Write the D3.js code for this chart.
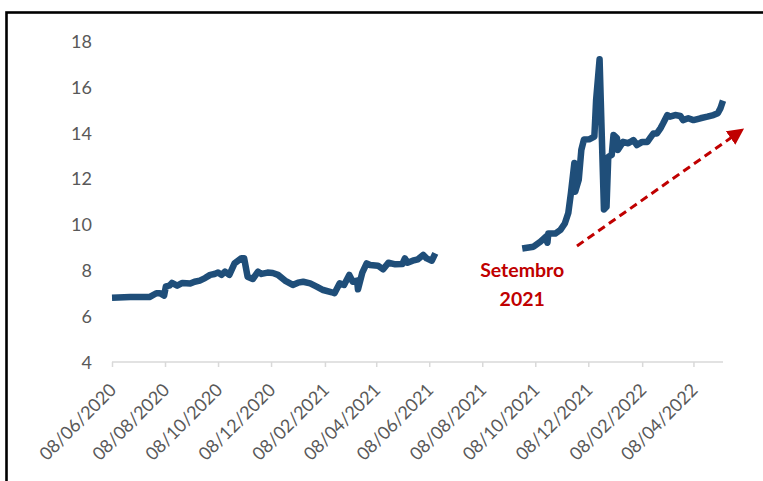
<!DOCTYPE html>
<html>
<head>
<meta charset="utf-8">
<script src="https://cdn.jsdelivr.net/npm/d3@7"></script>
<style>
  html, body { margin: 0; padding: 0; background: #fff; }
  svg { display: block; }
</style>
</head>
<body>
<svg id="chart" width="763" height="481"></svg>
<script>
// ---- data ----
const dates = [
  "2020-06-08","2020-06-29","2020-07-21","2020-07-29","2020-08-02","2020-08-07","2020-08-09","2020-08-13",
  "2020-08-16","2020-08-22","2020-08-28","2020-09-06","2020-09-11","2020-09-17","2020-09-23","2020-09-29",
  "2020-10-04","2020-10-08","2020-10-12","2020-10-16","2020-10-21","2020-10-27","2020-11-04","2020-11-07",
  "2020-11-11","2020-11-17","2020-11-23","2020-11-27","2020-12-04","2020-12-10","2020-12-16","2020-12-24",
  "2021-01-02","2021-01-08","2021-01-14","2021-01-22","2021-01-30","2021-02-06","2021-02-16","2021-02-19",
  "2021-02-25","2021-03-02","2021-03-08","2021-03-12","2021-03-17","2021-03-18","2021-03-23","2021-03-28",
  "2021-04-01","2021-04-10","2021-04-16","2021-04-22","2021-04-30","2021-05-08","2021-05-11","2021-05-14",
  "2021-05-20","2021-05-26","2021-06-01","2021-06-05","2021-06-11","2021-06-15",
  "2021-07-15",
  "2021-09-23","2021-10-06","2021-10-14","2021-10-20","2021-10-22","2021-10-23","2021-10-31","2021-11-06",
  "2021-11-11","2021-11-15","2021-11-18","2021-11-22","2021-11-23","2021-11-27","2021-11-30","2021-12-03",
  "2021-12-09","2021-12-15","2021-12-17","2021-12-21","2021-12-26","2021-12-29","2021-12-31","2022-01-04",
  "2022-01-06","2022-01-10","2022-01-11","2022-01-17","2022-01-23","2022-01-29","2022-02-02","2022-02-08",
  "2022-02-14","2022-02-17","2022-02-21","2022-02-25","2022-03-01","2022-03-04","2022-03-09","2022-03-12",
  "2022-03-18","2022-03-24","2022-03-27","2022-04-02","2022-04-08","2022-04-16","2022-04-24","2022-05-01",
  "2022-05-06","2022-05-09","2022-05-12"
];
const values = [
  6.80,6.83,6.83,7.00,7.00,6.90,7.30,7.33,
  7.45,7.33,7.45,7.42,7.50,7.55,7.66,7.80,
  7.84,7.90,7.80,7.94,7.80,8.30,8.53,8.53,
  7.72,7.62,7.94,7.84,7.90,7.88,7.80,7.55,
  7.36,7.46,7.50,7.43,7.28,7.14,7.04,7.00,
  7.43,7.36,7.80,7.50,7.55,7.17,7.90,8.30,
  8.23,8.20,8.04,8.33,8.26,8.27,8.52,8.33,
  8.42,8.48,8.67,8.52,8.42,8.74,
  null,
  8.95,9.03,9.25,9.46,9.20,9.60,9.60,9.76,
  10.04,10.50,11.36,12.68,11.43,11.94,13.25,13.70,
  13.71,13.83,15.43,17.20,10.65,10.77,12.95,13.03,
  13.90,13.76,13.25,13.60,13.54,13.68,13.46,13.60,
  13.60,13.76,13.97,13.97,14.19,14.40,14.77,14.70,
  14.77,14.73,14.55,14.63,14.55,14.63,14.70,14.77,
  14.85,15.06,15.40
];
const yTicks = [4, 6, 8, 10, 12, 14, 16, 18];
const xTickLabels = ["08/06/2020","08/08/2020","08/10/2020","08/12/2020","08/02/2021","08/04/2021",
  "08/06/2021","08/08/2021","08/10/2021","08/12/2021","08/02/2022","08/04/2022"];
const xDomain = ["2020-06-08", "2022-05-12"];
const yDomain = [4, 18];
const annotationLines = ["Setembro", "2021"];
const annotationAt = { date: "2021-09-23", value: 7.72 };
const arrowFrom = { date: "2021-11-25", value: 9.06 };
const arrowTo = { date: "2022-06-06", value: 14.2 };

// ---- drawing ----
const parse = d3.timeParse("%Y-%m-%d");
const parseLabel = d3.timeParse("%d/%m/%Y");
const svg = d3.select("#chart");

const x = d3.scaleTime().domain(xDomain.map(parse)).range([112, 723]);
const y = d3.scaleLinear().domain(yDomain).range([362, 41]);

const data = dates.map((d, i) => ({ date: parse(d), value: values[i] }));

// frame
svg.append("rect")
  .attr("x", 6.5).attr("y", 12.5).attr("width", 800).attr("height", 520)
  .attr("fill", "none").attr("stroke", "#000").attr("stroke-width", 2.6);

// y labels
const yAxis = d3.axisLeft(y).tickValues(yTicks).tickSize(0).tickPadding(0);
const gy = svg.append("g").attr("transform", "translate(92,0)").call(yAxis);
gy.select(".domain").remove();
gy.selectAll("text")
  .attr("font-family", "Lato, 'Open Sans', sans-serif")
  .attr("font-size", 18).attr("fill", "#595959").attr("dy", "0.35em");

// x axis
const tickDates = xTickLabels.map(parseLabel);
const xAxis = d3.axisBottom(x).tickValues(tickDates).tickSize(5).tickFormat(d3.timeFormat("%d/%m/%Y"));
const gx = svg.append("g").attr("transform", "translate(0,362)").call(xAxis);
gx.select(".domain").attr("stroke", "#d9d9d9").attr("stroke-width", 1.5)
  .attr("d", `M${x.range()[0]},0H${x.range()[1]}`);
gx.selectAll(".tick line").attr("stroke", "#d9d9d9").attr("stroke-width", 1.5);
gx.selectAll(".tick text")
  .attr("font-family", "Lato, 'Open Sans', sans-serif")
  .attr("font-size", 18).attr("fill", "#595959")
  .attr("text-anchor", "end")
  .attr("y", 0).attr("dy", 0)
  .attr("transform", "translate(5,29) rotate(-45)");

// line
const line = d3.line()
  .defined(d => d.value != null)
  .x(d => x(d.date)).y(d => y(d.value));
svg.append("path").datum(data)
  .attr("d", line)
  .attr("fill", "none").attr("stroke", "#1F4E79")
  .attr("stroke-width", 6.5).attr("stroke-linejoin", "round").attr("stroke-linecap", "butt");

// annotation text
const ax = x(parse(annotationAt.date));
const ay = y(annotationAt.value);
svg.append("text")
  .attr("x", ax).attr("y", ay)
  .attr("text-anchor", "middle")
  .attr("font-family", "Lato, 'Open Sans', sans-serif")
  .attr("font-weight", "bold").attr("font-size", 19.5).attr("fill", "#C00000")
  .selectAll("tspan").data(annotationLines).join("tspan")
  .attr("x", ax).attr("dy", (d, i) => i === 0 ? 0 : 29)
  .text(d => d);

// arrow
svg.append("defs").append("marker")
  .attr("id", "arrowhead").attr("viewBox", "0 0 10 10")
  .attr("refX", 2).attr("refY", 5)
  .attr("markerWidth", 5.5).attr("markerHeight", 5.5)
  .attr("markerUnits", "strokeWidth")
  .attr("orient", "auto")
  .append("path").attr("d", "M0,0L10,5L0,10Z").attr("fill", "#C00000");

const x1 = x(parse(arrowFrom.date)), y1 = y(arrowFrom.value);
const x2 = x(parse(arrowTo.date)), y2 = y(arrowTo.value);
const len = Math.hypot(x2 - x1, y2 - y1);
const back = 14;
svg.append("line")
  .attr("x1", x1).attr("y1", y1)
  .attr("x2", x2 - (x2 - x1) / len * back).attr("y2", y2 - (y2 - y1) / len * back)
  .attr("stroke", "#C00000").attr("stroke-width", 3)
  .attr("stroke-dasharray", "8,5")
  .attr("marker-end", "url(#arrowhead)");
</script>
</body>
</html>
